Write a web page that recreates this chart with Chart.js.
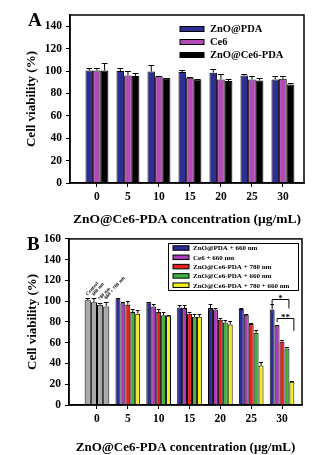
<!DOCTYPE html>
<html lang="en">
<head>
  <meta charset="UTF-8" />
  <title>Cell viability vs ZnO@Ce6-PDA concentration</title>
  <script src="https://cdn.jsdelivr.net/npm/chart.js"></script>
  <style>
    body { margin: 0; background: #fff; }
    canvas { position: absolute; left: 0; }
  </style>
</head>
<body>
  <canvas id="chartA" width="327" height="228" style="top:0"></canvas>
  <canvas id="chartB" width="327" height="227" style="top:228px"></canvas>

  <script>
    const concentrations = [0, 5, 10, 15, 20, 25, 30];
    const yTicksA = [0, 20, 40, 60, 80, 100, 120, 140];
    const yTicksB = [0, 20, 40, 60, 80, 100, 120, 140, 160];
    const xTitle = 'ZnO@Ce6-PDA concentration (\u03bcg/mL)';
    const yTitle = 'Cell viability (%)';

    // panel A
    const seriesNamesA = ['ZnO@PDA', 'Ce6', 'ZnO@Ce6-PDA'];
    const znoPdaA = [100.5, 100, 99.5, 99, 98.5, 96, 92.5];
    const znoPdaErrA = [2, 3, 5.5, 1.5, 3, 1, 3];
    const ce6A = [100.5, 96, 95, 94, 92.5, 92.5, 93];
    const ce6ErrA = [2, 4, 0.5, 0.5, 5, 3, 2.5];
    const znoCe6PdaA = [100.5, 95.5, 93.5, 92.5, 91, 91.5, 88];
    const znoCe6PdaErrA = [6.5, 3, 0.5, 0.5, 1.5, 2, 1.5];

    // panel B
    const controlNamesB = ['Control', '660 nm', '780 nm', '660 + 780 nm'];
    const controlB = [101, 99, 96.5, 95];
    const controlErrB = [2, 4, 2, 4.5];
    const seriesNamesB = ['ZnO@PDA + 660 nm', 'Ce6 + 660 nm', 'ZnO@Ce6-PDA + 780 nm',
                          'ZnO@Ce6-PDA + 660 nm', 'ZnO@Ce6-PDA + 780 + 660 nm'];
    const znoPda660B = [null, 102.5, 99, 94, 93.5, 92.5, 92];
    const znoPda660ErrB = [null, 0.5, 0.5, 2, 4, 0.5, 5];
    const ce6660B = [null, 98, 95, 93.5, 92, 87, 76.5];
    const ce6660ErrB = [null, 1.5, 2, 3, 1, 0.5, 1];
    const zc780B = [null, 96.5, 89.5, 88, 82, 78, 61];
    const zc780ErrB = [null, 3.5, 2.5, 1.5, 1.5, 1, 2];
    const zc660B = [null, 89.5, 86.5, 85, 79.5, 69.5, 54.5];
    const zc660ErrB = [null, 3, 3, 3, 2.5, 3, 1.5];
    const zc780660B = [null, 88, 86, 85, 77.5, 38, 22.5];
    const zc780660ErrB = [null, 3.5, 0.5, 3, 3.5, 3, 1];

    // significance brackets at 30 ug/mL (series index from/to, bracket height, leg ends)
    const sigMarks = ['*', '**'];
    const sigFrom = [0, 1];
    const sigTo = [3, 4];
    const sigLevel = [102.5, 83.5];
    const sigLeftEnd = [97.5, 80];
    const sigRightEnd = [93, 71.5];

    const SERIF = "'Liberation Serif', 'Times New Roman', serif";
    const colorsA = ['#2e2e94', '#b24ab4', '#000000'];
    const colorsB = ['#2b2b98', '#a83cb6', '#e6211c', '#40b040', '#f0ee1e'];
    const grey = '#a8a8a8';

    const points = vals => concentrations.map((c, i) => ({ x: c, y: vals[i] }));

    function barSet(label, vals, errs, color) {
      return {
        label,
        data: points(vals),
        errors: errs,
        backgroundColor: color,
        borderColor: '#000',
        borderWidth: 1,
        borderSkipped: 'bottom',
        skipNull: true
      };
    }

    const errorBars = {
      id: 'errorBars',
      afterDatasetsDraw(chart) {
        const { ctx } = chart;
        const y = chart.scales.y;
        ctx.save();
        ctx.strokeStyle = '#000';
        ctx.lineWidth = 1;
        chart.data.datasets.forEach((ds, i) => {
          const meta = chart.getDatasetMeta(i);
          meta.data.forEach((bar, j) => {
            const v = ds.data[j].y, e = ds.errors[j];
            if (v == null || e == null || !isFinite(bar.x)) return;
            const top = Math.round(y.getPixelForValue(v + e)) + 0.5;
            const half = bar.width * 0.38;
            ctx.beginPath();
            ctx.moveTo(bar.x, bar.y);
            ctx.lineTo(bar.x, top);
            ctx.moveTo(bar.x - half, top);
            ctx.lineTo(bar.x + half, top);
            ctx.stroke();
          });
        });
        ctx.restore();
      }
    };

    const frame = {
      id: 'frame',
      afterDraw(chart, args, opts) {
        const { ctx, chartArea: a } = chart;
        ctx.save();
        ctx.strokeStyle = '#000';
        ctx.lineWidth = 1.5;
        ctx.strokeRect(a.left, a.top, a.right - a.left, a.bottom - a.top);
        ctx.fillStyle = '#000';
        ctx.font = `bold ${opts.letterSize}px ${SERIF}`;
        ctx.textBaseline = 'middle';
        ctx.fillText(opts.letter, opts.letterX, opts.letterY);
        ctx.restore();
      }
    };

    const insideLegend = {
      id: 'insideLegend',
      afterDraw(chart, args, o) {
        const { ctx } = chart;
        ctx.save();
        if (o.box) {
          ctx.strokeStyle = '#000';
          ctx.lineWidth = 1;
          ctx.strokeRect(o.box[0] + 0.5, o.box[1] + 0.5, o.box[2], o.box[3]);
        }
        ctx.font = `bold ${o.fontSize}px ${SERIF}`;
        ctx.textBaseline = 'middle';
        o.labels.forEach((label, i) => {
          const cy = o.y + i * o.step;
          ctx.fillStyle = o.colors[i];
          ctx.fillRect(o.x, cy - o.h / 2, o.w, o.h);
          ctx.strokeStyle = '#000';
          ctx.lineWidth = 1;
          ctx.strokeRect(o.x, cy - o.h / 2, o.w, o.h);
          ctx.fillStyle = '#000';
          ctx.fillText(label, o.x + o.w + o.gap, cy + 0.5);
        });
        ctx.restore();
      }
    };

    const extrasB = {
      id: 'extrasB',
      afterDatasetsDraw(chart) {
        const { ctx } = chart;
        const y = chart.scales.y;
        ctx.save();
        // rotated labels above the control bars
        ctx.fillStyle = '#000';
        ctx.font = `bold 5px ${SERIF}`;
        ctx.textBaseline = 'middle';
        controlNamesB.forEach((name, k) => {
          const bar = chart.getDatasetMeta(k).data[0];
          const top = y.getPixelForValue(controlB[k] + controlErrB[k]);
          ctx.save();
          ctx.translate(bar.x - 1, top - 3);
          ctx.rotate(-0.85);
          ctx.fillText(name, 0, 0);
          ctx.restore();
        });
        // significance brackets
        ctx.strokeStyle = '#000';
        ctx.lineWidth = 1;
        ctx.font = `bold 9px ${SERIF}`;
        ctx.textAlign = 'center';
        const last = concentrations.length - 1;
        sigMarks.forEach((mark, s) => {
          const x1 = chart.getDatasetMeta(4 + sigFrom[s]).data[last].x;
          const x2 = chart.getDatasetMeta(4 + sigTo[s]).data[last].x + 2;
          const yl = Math.round(y.getPixelForValue(sigLevel[s])) + 0.5;
          ctx.beginPath();
          ctx.moveTo(x1, y.getPixelForValue(sigLeftEnd[s]));
          ctx.lineTo(x1, yl);
          ctx.lineTo(x2, yl);
          ctx.lineTo(x2, y.getPixelForValue(sigRightEnd[s]));
          ctx.stroke();
          ctx.fillText(mark, (x1 + x2) / 2, yl - 1);
        });
        ctx.restore();
      }
    };

    function makeChart(id, cfg) {
      const canvas = document.getElementById(id);
      const H = canvas.height;
      const a = cfg.area; // [left, top, right, bottom]
      return new Chart(canvas.getContext('2d'), {
        type: 'bar',
        data: { datasets: cfg.datasets },
        plugins: cfg.plugins,
        options: {
          responsive: false,
          animation: false,
          layout: { padding: { left: 0, top: a[1], right: canvas.width - a[2], bottom: 0 } },
          datasets: { bar: { categoryPercentage: cfg.catPct, barPercentage: 1, skipNull: true } },
          plugins: {
            legend: { display: false },
            tooltip: { enabled: false },
            frame: cfg.frame,
            insideLegend: cfg.legend
          },
          scales: {
            x: {
              type: 'linear',
              min: cfg.xMin,
              max: cfg.xMax,
              offset: false,
              afterBuildTicks: ax => { ax.ticks = concentrations.map(v => ({ value: v })); },
              afterFit: s => { s.height = H - a[3]; },
              grid: { display: true, drawOnChartArea: false, offset: false, tickLength: 4, color: '#000', lineWidth: 1 },
              border: { display: true, color: '#000', width: 1.5 },
              ticks: { color: '#000', padding: cfg.xTickPad, autoSkip: false, maxRotation: 0,
                       font: { family: SERIF, size: 11.5, weight: 'bold' } },
              title: { display: true, text: xTitle, color: '#000', padding: { top: cfg.xTitlePad, bottom: 0 },
                       font: { family: SERIF, size: cfg.xTitleSize, weight: 'bold' } }
            },
            y: {
              min: 0,
              max: cfg.yMax,
              afterBuildTicks: ax => { ax.ticks = cfg.yTicks.map(v => ({ value: v })); },
              afterFit: s => { s.width = a[0]; },
              grid: { display: true, drawOnChartArea: false, tickLength: 4, color: '#000', lineWidth: 1 },
              border: { display: true, color: '#000', width: 1.5 },
              ticks: { color: '#000', padding: 4, font: { family: SERIF, size: 11.5, weight: 'bold' } },
              title: { display: true, text: yTitle, color: '#000', padding: { top: cfg.yTitlePad, bottom: 0 },
                       font: { family: SERIF, size: 13, weight: 'bold' } }
            }
          }
        }
      });
    }

    makeChart('chartA', {
      area: [70, 15, 304, 183],
      xMin: -4.35, xMax: 33.4, yMax: 150, yTicks: yTicksA,
      catPct: 0.74, xTickPad: 3.5, xTitlePad: 1, xTitleSize: 13.5, yTitlePad: 24,
      datasets: [
        barSet(seriesNamesA[0], znoPdaA, znoPdaErrA, colorsA[0]),
        barSet(seriesNamesA[1], ce6A, ce6ErrA, colorsA[1]),
        barSet(seriesNamesA[2], znoCe6PdaA, znoCe6PdaErrA, colorsA[2])
      ],
      plugins: [errorBars, frame, insideLegend],
      frame: { letter: 'A', letterX: 28, letterY: 21, letterSize: 19 },
      legend: { labels: seriesNamesA, colors: colorsA, x: 180, y: 29, step: 13, w: 24, h: 5, gap: 6, fontSize: 10.5 }
    });

    const greySets = controlB.map((v, k) =>
      barSet(controlNamesB[k], concentrations.map((c, i) => (i === 0 ? v : null)),
             concentrations.map((c, i) => (i === 0 ? controlErrB[k] : null)), grey));

    makeChart('chartB', {
      area: [69, 10, 302, 177],
      xMin: -4.54, xMax: 33.24, yMax: 160, yTicks: yTicksB,
      catPct: 0.8, xTickPad: 3, xTitlePad: 6, xTitleSize: 13, yTitlePad: 25,
      datasets: greySets.concat([
        barSet(seriesNamesB[0], znoPda660B, znoPda660ErrB, colorsB[0]),
        barSet(seriesNamesB[1], ce6660B, ce6660ErrB, colorsB[1]),
        barSet(seriesNamesB[2], zc780B, zc780ErrB, colorsB[2]),
        barSet(seriesNamesB[3], zc660B, zc660ErrB, colorsB[3]),
        barSet(seriesNamesB[4], zc780660B, zc780660ErrB, colorsB[4])
      ]),
      plugins: [errorBars, frame, insideLegend, extrasB],
      frame: { letter: 'B', letterX: 27, letterY: 17, letterSize: 19 },
      legend: { labels: seriesNamesB, colors: colorsB, box: [168, 15, 130, 47],
                x: 173, y: 20, step: 9.3, w: 16, h: 4.5, gap: 4, fontSize: 7 }
    });
  </script>
</body>
</html>
